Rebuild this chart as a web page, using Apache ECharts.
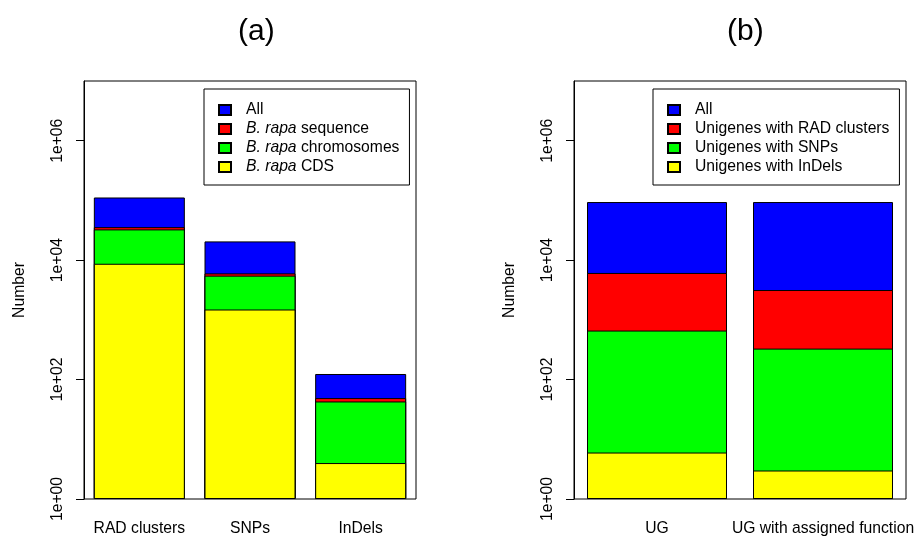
<!DOCTYPE html>
<html>
<head>
<meta charset="utf-8">
<script src="https://cdn.jsdelivr.net/npm/echarts@6/dist/echarts.min.js"></script>
<style>
  html, body { margin: 0; padding: 0; background: #fff; }
  #chart { width: 918px; height: 538px; }
</style>
</head>
<body>
<div id="chart"></div>
<script>
// ---- data ----
const catsA = ['RAD clusters', 'SNPs', 'InDels'];
const allA = [112000, 20600, 124];
const seqA = [35700, 6000, 49];
const chrA = [32700, 5500, 43];
const cdsA = [8700, 1490, 4];

const catsB = ['UG', 'UG with assigned function'];
const allB = [94000, 94000];
const radB = [6100, 3160];
const snpB = [662, 330];
const indelB = [6, 3];

const namesA = ['All', 'B. rapa sequence', 'B. rapa chromosomes', 'B. rapa CDS'];
const namesB = ['All', 'Unigenes with RAD clusters', 'Unigenes with SNPs', 'Unigenes with InDels'];
const tickVals = [1, 100, 10000, 1000000];
const colors = ['#0000FF', '#FF0000', '#00FF00', '#FFFF00'];

const FONT = 'Liberation Sans, Arial, Helvetica, sans-serif';
const FS = 15.7;

function yAxis(gridIndex) {
  return {
    type: 'log', logBase: 10, min: 1, max: 10000000, gridIndex,
    name: 'Number', nameLocation: 'middle', nameRotate: 90, nameGap: 56,
    nameTextStyle: { color: '#000', fontSize: FS, fontFamily: FONT },
    axisLine: { show: true, lineStyle: { color: '#000', width: 1 } },
    axisTick: { show: true, length: 8, lineStyle: { color: '#000' }, customValues: tickVals },
    axisLabel: {
      show: true, rotate: 90, margin: 18, color: '#000', fontSize: FS, fontFamily: FONT,
      customValues: tickVals,
      formatter: v => { const e = Math.round(Math.log10(v)); return '1e+' + (e < 10 ? '0' + e : e); }
    },
    splitLine: { show: false }, minorTick: { show: false }
  };
}
function xAxis(gridIndex, cats) {
  return {
    type: 'category', data: cats, gridIndex,
    axisLine: { show: false }, axisTick: { show: false },
    axisLabel: { color: '#000', fontSize: FS, fontFamily: FONT, margin: 22, interval: 0 }
  };
}
function bar(name, data, color, xi, width) {
  return {
    type: 'bar', name, data, xAxisIndex: xi, yAxisIndex: xi,
    barWidth: width, barGap: '-100%',
    itemStyle: { color, borderColor: '#000', borderWidth: 1 },
    emphasis: { disabled: true }
  };
}
function legend(left, data) {
  return {
    left, top: 89, orient: 'vertical', data,
    selectedMode: false,
    backgroundColor: '#fff',
    borderColor: '#000', borderWidth: 1,
    padding: [13, 10, 10, 14],
    itemWidth: 12, itemHeight: 10, itemGap: 3,
    icon: 'rect',
    formatter: n => n.startsWith('B. rapa') ? '{i|B. rapa}{t|' + n.slice(7) + '}' : '{t|' + n + '}',
    textStyle: {
      color: '#000', fontSize: FS, fontFamily: FONT, lineHeight: 16, padding: [0, 0, 0, 10],
      rich: {
        i: { fontStyle: 'italic', fontSize: FS, fontFamily: FONT, lineHeight: 16, color: '#000' },
        t: { fontSize: FS, fontFamily: FONT, lineHeight: 16, color: '#000' }
      }
    }
  };
}

const chart = echarts.init(document.getElementById('chart'));
chart.setOption({
  animation: false,
  backgroundColor: '#fff',
  title: [
    { text: '(a)', left: 238, top: 17, padding: 0, textStyle: { fontSize: 30, fontWeight: 'normal', color: '#000', fontFamily: FONT } },
    { text: '(b)', left: 727, top: 17, padding: 0, textStyle: { fontSize: 30, fontWeight: 'normal', color: '#000', fontFamily: FONT } }
  ],
  grid: [
    { left: 84, top: 81, width: 332, height: 418, show: true, borderColor: '#000', borderWidth: 1, backgroundColor: 'transparent' },
    { left: 574, top: 81, width: 332, height: 418, show: true, borderColor: '#000', borderWidth: 1, backgroundColor: 'transparent' }
  ],
  xAxis: [xAxis(0, catsA), xAxis(1, catsB)],
  yAxis: [yAxis(0), yAxis(1)],
  legend: [legend(204, namesA), legend(653, namesB)],
  series: [
    bar(namesA[0], allA, colors[0], 0, 91),
    bar(namesA[1], seqA, colors[1], 0, 91),
    bar(namesA[2], chrA, colors[2], 0, 91),
    bar(namesA[3], cdsA, colors[3], 0, 91),
    bar(namesB[0], allB, colors[0], 1, 140),
    bar(namesB[1], radB, colors[1], 1, 140),
    bar(namesB[2], snpB, colors[2], 1, 140),
    bar(namesB[3], indelB, colors[3], 1, 140)
  ]
});
</script>
</body>
</html>
